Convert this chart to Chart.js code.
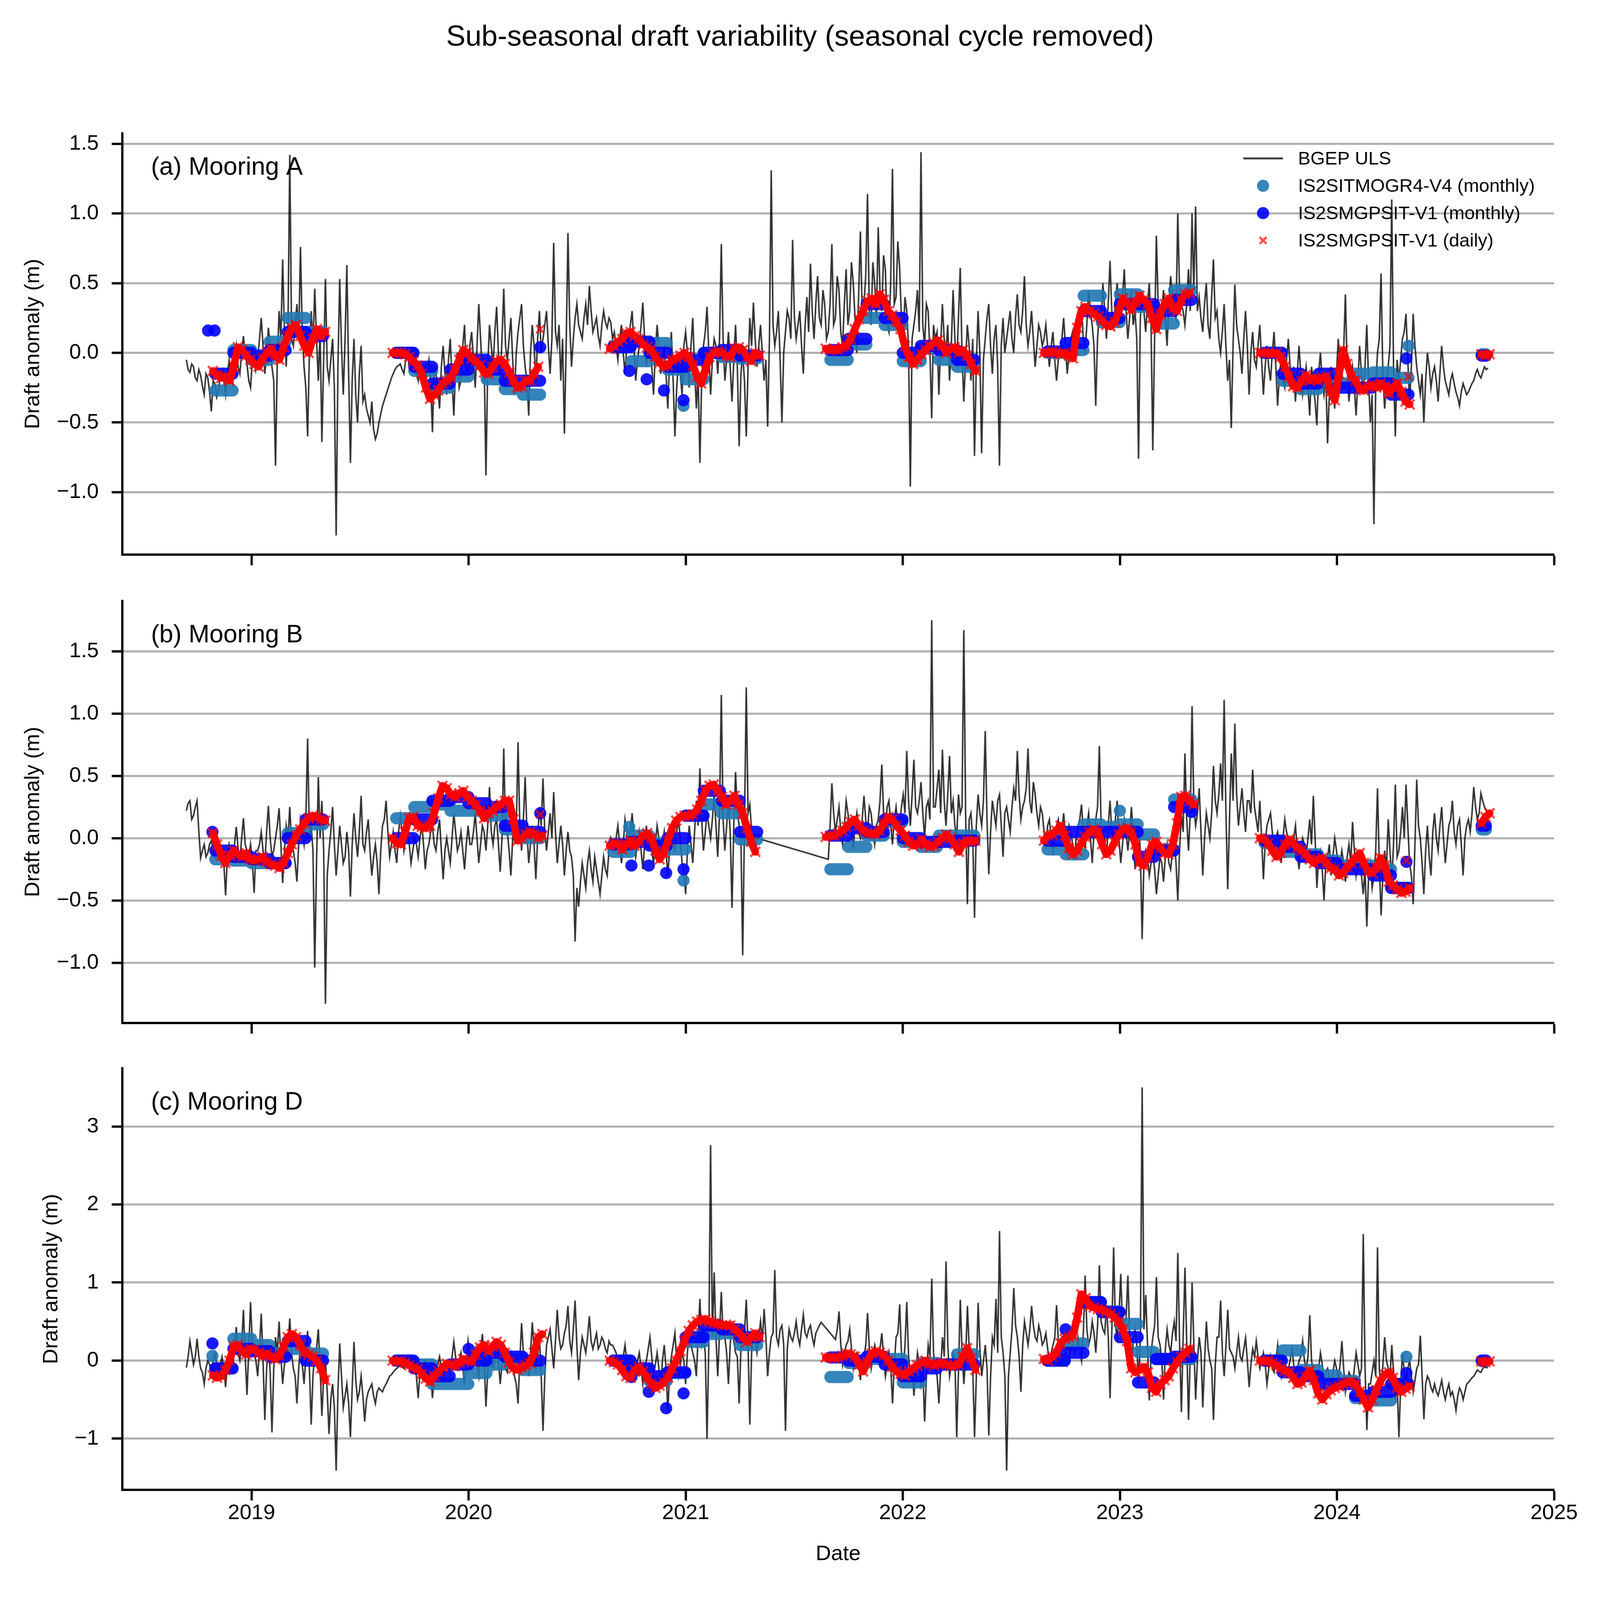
<!DOCTYPE html>
<html>
<head>
<meta charset="utf-8">
<script src="https://cdn.jsdelivr.net/npm/chart.js@4.4.1/dist/chart.umd.min.js"></script>
<style>
  html, body { margin: 0; padding: 0; background: #fff; overflow: hidden; }
  body { width: 100vw; height: 100vh; position: relative; font-family: "Liberation Sans", Arial, sans-serif; }
  #fig { position: absolute; left: 0; top: 0; width: 4212px; height: 4183px; transform-origin: 0 0; background: #fff; }
  #title { position: absolute; left: 0; top: 52px; width: 4212px; text-align: center; font-size: 76px; line-height: 84px; color: #000; }
  .panel { position: absolute; left: 0; width: 4212px; }
</style>
</head>
<body>
<div id="fig">
  <div id="title">Sub-seasonal draft variability (seasonal cycle removed)</div>
  <div class="panel" style="top:281px;height:1249px"><canvas id="panelA"></canvas></div>
  <div class="panel" style="top:1512px;height:1251px"><canvas id="panelB"></canvas></div>
  <div class="panel" style="top:2742px;height:1441px"><canvas id="panelC"></canvas></div>
</div>
<script>
/* ---- axis ticks ---- */
const yearTicks = [2019, 2020, 2021, 2022, 2023, 2024, 2025];
const yTicksAB = [-1, -0.5, 0, 0.5, 1, 1.5];
const yTicksC = [-1, 0, 1, 2, 3];

/* ---- BGEP ULS daily anomaly, read every 3 days (m) ---- */
const bgepStepDays = 3;
const bgepA = [
  -0.05,-0.12,-0.14,-0.08,-0.10,-0.18,-0.20,-0.12,-0.16,-0.24,-0.30,-0.15,-0.18,-0.28,-0.42,-0.20,-0.22,-0.32,-0.28,-0.15,
  -0.12,-0.20,-0.30,-0.15,-0.05,-0.18,-0.22,-0.05,0.05,-0.10,-0.15,0.00,0.12,-0.02,-0.08,-0.20,-0.25,-0.05,0.02,-0.12,
  -0.05,0.10,0.25,0.05,-0.15,0.00,0.18,0.05,-0.10,-0.20,-0.81,-0.05,0.30,0.10,0.67,0.15,-0.10,0.20,1.42,0.10,
  0.05,0.20,0.35,0.10,0.76,0.15,-0.10,-0.25,-0.60,0.00,0.30,0.05,0.46,0.10,-0.20,0.15,-0.64,-0.05,0.53,-0.10,
  -0.20,-0.05,0.10,-0.25,-1.31,-0.10,0.53,0.05,-0.30,0.10,0.63,-0.15,-0.79,-0.20,0.10,-0.30,-0.50,-0.15,0.05,-0.35,
  -0.30,-0.40,-0.45,-0.50,-0.35,-0.55,-0.62,-0.58,-0.50,-0.44,-0.38,-0.34,-0.30,-0.26,-0.22,-0.18,-0.15,-0.12,-0.10,-0.09,
  -0.08,-0.12,-0.15,-0.05,-0.02,-0.10,-0.12,-0.03,-0.06,-0.15,-0.20,-0.08,-0.10,-0.18,-0.28,-0.12,-0.05,-0.20,-0.57,-0.10,
  -0.15,-0.25,-0.40,-0.10,0.05,-0.15,-0.30,-0.05,0.10,-0.20,-0.45,-0.10,0.00,-0.25,-0.20,0.05,0.20,-0.15,-0.10,0.05,
  0.15,-0.05,-0.25,0.05,0.35,0.10,-0.15,-0.05,-0.88,-0.10,0.20,0.05,-0.10,0.15,0.33,0.00,-0.20,0.10,0.46,0.05,
  -0.05,0.10,0.25,-0.05,-0.30,0.00,0.15,0.25,0.35,0.05,-0.10,-0.20,-0.45,0.00,0.20,0.05,-0.20,0.10,0.30,0.00,
  0.10,0.20,0.30,0.05,-0.15,0.10,0.79,0.15,0.05,0.20,-0.20,0.10,-0.58,0.05,0.86,0.20,-0.10,0.10,0.25,0.35,
  0.20,0.15,0.10,0.25,0.35,0.20,0.48,0.30,0.15,0.20,0.25,0.12,0.05,0.20,0.30,0.22,0.18,0.25,0.22,0.10,
  0.15,0.05,-0.05,0.10,0.20,0.00,-0.15,0.05,0.10,0.20,0.30,0.05,-0.20,-0.05,0.05,0.20,0.36,0.10,-0.10,0.05,
  0.10,-0.10,-0.30,0.00,0.20,0.05,-0.15,-0.05,0.05,-0.15,-0.40,-0.05,0.15,-0.20,-0.60,-0.25,-0.05,-0.15,-0.30,0.05,
  0.15,0.00,-0.25,0.05,0.25,-0.10,-0.40,-0.15,-0.79,-0.20,0.05,0.15,0.33,0.00,-0.30,-0.05,0.10,0.05,-0.15,0.10,
  0.78,0.10,-0.20,-0.05,0.15,-0.10,-0.35,-0.05,0.20,-0.10,-0.67,-0.15,0.00,-0.20,-0.60,-0.10,0.25,0.05,0.36,0.10,
  -0.10,0.05,0.20,0.00,-0.20,-0.05,-0.53,0.10,1.31,0.20,0.05,0.15,0.30,-0.05,-0.50,0.00,0.15,0.30,0.25,0.10,
  0.81,0.25,0.10,0.20,0.30,0.05,-0.15,0.20,0.40,0.15,0.64,0.30,0.10,0.35,0.55,0.25,0.20,0.45,0.35,0.10,
  0.15,0.35,0.78,0.20,0.25,0.55,0.45,0.15,0.05,0.35,0.60,0.20,0.30,0.65,0.50,0.25,0.00,0.40,0.87,0.30,
  0.35,0.55,1.14,0.30,0.20,0.65,0.50,0.25,0.90,0.45,0.30,0.70,0.60,0.20,0.15,0.50,1.32,0.35,0.40,0.80,
  0.61,0.25,0.10,0.40,0.30,0.05,-0.96,0.10,0.20,0.30,0.45,0.15,1.44,0.20,0.05,0.35,0.30,0.00,-0.47,0.20,
  0.10,0.15,-0.30,0.05,0.35,0.10,0.00,0.20,-0.20,0.05,0.45,0.10,-0.10,0.25,0.61,0.00,-0.35,-0.05,0.20,0.05,
  -0.20,0.10,-0.74,-0.10,0.30,0.00,-0.72,-0.05,0.10,0.25,0.35,0.05,-0.15,0.10,0.20,-0.10,-0.81,0.05,0.25,0.00,
  0.10,0.20,0.30,0.10,0.00,0.25,0.42,0.20,0.15,0.30,0.55,0.20,0.05,0.15,0.30,0.10,-0.10,0.05,0.20,0.15,
  0.05,0.10,0.20,0.05,-0.10,0.05,0.15,-0.05,-0.20,-0.05,0.00,0.10,0.25,0.05,-0.15,0.00,0.10,0.15,-0.05,0.05,
  0.15,0.25,0.35,0.10,0.00,0.20,0.45,0.30,0.20,0.05,-0.38,0.10,0.30,0.20,0.50,0.30,0.10,0.35,0.66,0.30,
  0.20,0.35,0.50,0.30,0.25,0.40,0.60,0.30,0.10,0.25,0.45,0.20,0.30,0.10,-0.76,0.25,0.40,0.30,0.15,0.35,
  0.50,0.20,-0.70,0.10,0.84,0.35,0.20,0.30,0.45,0.25,0.05,0.35,0.55,0.40,0.30,0.25,1.00,0.45,0.35,0.30,
  0.20,0.35,0.60,0.30,1.00,0.45,1.05,0.30,0.40,0.25,0.15,0.35,0.50,0.20,0.10,0.40,0.67,0.25,0.30,0.10,
  0.00,0.15,0.35,0.05,-0.20,-0.05,-0.54,0.05,0.49,0.20,0.10,0.00,-0.15,0.10,0.30,0.05,-0.30,0.00,0.15,-0.05,
  -0.10,0.05,0.20,-0.05,-0.30,-0.10,0.05,-0.10,-0.20,0.00,0.15,-0.10,-0.38,-0.15,-0.05,-0.20,-0.25,-0.05,0.10,-0.10,
  -0.20,-0.10,-0.35,-0.15,0.05,-0.15,-0.30,-0.20,-0.10,-0.25,-0.45,-0.10,-0.20,-0.35,-0.52,-0.15,0.00,-0.20,-0.30,-0.15,
  -0.65,-0.30,-0.10,-0.25,-0.40,-0.15,0.10,-0.10,-0.20,0.00,0.42,-0.10,-0.35,-0.20,-0.10,-0.25,-0.45,-0.20,0.05,-0.15,
  -0.30,-0.10,0.20,-0.20,-0.50,-0.30,-1.23,-0.25,0.00,0.10,0.57,-0.15,-0.40,-0.25,-0.10,0.05,1.10,-0.10,-0.60,-0.05,
  -0.20,-0.05,0.10,0.15,0.28,-0.05,-0.35,-0.10,0.28,0.05,-0.10,-0.20,-0.30,-0.15,-0.50,-0.20,0.00,-0.10,-0.25,-0.15,
  -0.10,-0.20,-0.35,-0.15,0.05,-0.10,-0.20,-0.25,-0.30,-0.20,-0.15,-0.22,-0.28,-0.32,-0.38,-0.28,-0.22,-0.26,-0.30,-0.28,
  -0.25,-0.22,-0.20,-0.15,-0.12,-0.16,-0.18,-0.14,-0.10,-0.12,-0.11
];
const bgepB1 = [
  0.22,0.28,0.30,0.15,0.18,0.25,0.30,0.05,-0.16,-0.10,-0.05,-0.15,-0.12,-0.05,-0.02,-0.10,-0.15,-0.05,-0.08,-0.12,
  -0.12,-0.20,-0.46,-0.15,-0.05,-0.12,-0.15,-0.05,0.09,-0.08,-0.18,0.00,0.16,-0.05,-0.10,-0.15,-0.05,-0.20,-0.44,-0.10,
  -0.10,-0.05,0.05,-0.10,-0.20,0.05,0.26,0.00,-0.15,-0.10,0.00,0.10,0.24,-0.05,-0.36,-0.10,0.10,0.00,0.25,-0.05,
  -0.10,-0.20,-0.35,-0.05,0.15,0.05,-0.05,0.15,0.80,0.00,0.10,-0.10,-1.04,-0.20,0.49,0.00,0.30,-0.10,-1.33,-0.30,
  -0.10,0.05,0.25,-0.05,-0.30,-0.10,0.10,-0.05,-0.20,-0.15,0.05,-0.10,-0.47,-0.05,0.20,0.00,-0.15,0.05,0.34,-0.05,
  -0.10,0.05,0.15,-0.10,-0.30,-0.15,-0.05,-0.20,-0.45,-0.10,0.10,0.15,0.30,0.05,-0.15,-0.05,0.05,-0.10,-0.20,0.05,
  0.18,0.05,-0.10,0.00,0.10,-0.05,-0.20,-0.10,0.00,-0.05,-0.15,0.00,0.12,-0.05,-0.25,-0.10,-0.05,0.05,0.10,-0.05,
  -0.10,0.05,0.15,-0.10,-0.33,-0.10,0.00,-0.10,-0.20,0.00,0.20,0.05,-0.10,-0.05,0.05,-0.10,-0.25,-0.05,0.10,-0.05,
  -0.05,0.05,0.20,0.00,-0.20,-0.05,0.10,0.05,-0.10,0.10,0.41,0.05,-0.05,0.10,0.15,-0.05,-0.27,0.00,0.72,0.05,
  0.05,-0.10,-0.30,0.00,0.20,0.05,0.77,0.10,-0.10,0.15,0.49,0.05,-0.20,-0.05,0.10,-0.05,-0.33,0.00,0.25,0.10,
  0.48,0.05,-0.10,0.05,0.20,0.00,0.37,0.05,-0.20,-0.05,0.10,-0.05,-0.30,-0.10,0.05,-0.10,-0.15,-0.30,-0.83,-0.40,
  -0.55,-0.35,-0.20,-0.30,-0.40,-0.20,-0.10,-0.25,-0.35,-0.15,-0.25,-0.35,-0.45,-0.30,-0.15,-0.25,-0.30,-0.10,0.00,-0.05,
  -0.10,0.00,0.10,-0.05,-0.20,-0.05,0.15,0.05,-0.05,0.05,0.20,0.00,-0.15,-0.05,0.05,-0.10,-0.25,-0.05,0.10,-0.05,
  -0.05,-0.10,-0.20,-0.05,0.10,0.00,-0.15,-0.05,0.05,-0.10,-0.30,-0.10,0.00,-0.05,-0.10,0.05,0.15,0.00,-0.20,-0.25,
  -0.45,-0.10,0.10,-0.05,-0.20,0.05,0.30,0.10,0.56,0.15,-0.10,0.05,0.20,0.10,0.00,0.15,0.35,0.10,-0.15,0.20,
  1.15,0.15,-0.10,0.10,0.30,0.05,-0.56,0.10,0.53,0.20,0.10,0.00,-0.94,0.10,1.21,0.20,0.27,0.05,-0.10,-0.05,
  0.00
];
const bgepB2 = [
  -0.17,0.10,0.44,0.20,0.05,0.15,0.25,0.05,-0.05,0.10,0.30,0.20,0.10,0.05,-0.09,0.10,0.20,0.05,0.00,0.15,
  0.34,0.15,0.05,0.25,0.20,0.05,-0.05,0.10,0.15,0.30,0.59,0.20,0.10,0.25,0.30,0.10,-0.05,0.15,0.25,0.10,
  0.10,0.25,0.35,0.20,0.70,0.30,0.10,0.35,0.63,0.25,0.20,0.30,0.45,0.20,0.00,0.25,0.30,0.15,1.75,0.25,
  0.25,0.40,0.55,0.20,0.71,0.30,0.10,0.35,0.66,0.20,0.30,0.10,0.00,0.35,0.20,0.25,1.67,0.20,-0.53,0.15,
  0.20,0.00,-0.64,0.10,0.35,0.20,0.10,0.30,0.86,0.15,-0.29,0.05,0.30,0.20,0.10,0.30,0.35,0.10,-0.15,0.20,
  0.25,0.15,0.05,0.25,0.40,0.30,0.70,0.35,0.15,0.25,0.30,0.40,0.72,0.30,0.20,0.45,0.35,0.20,0.10,0.25,
  0.20,0.05,-0.05,0.10,0.15,0.00,-0.10,0.05,0.10,0.15,0.00,0.05,0.20,0.00,-0.15,0.10,0.05,-0.05,-0.18,0.00,
  0.10,0.15,0.27,0.05,-0.10,0.10,0.20,0.00,-0.20,0.05,0.15,0.25,0.74,0.10,0.05,0.00,-0.15,0.10,0.30,0.05,
  0.00,0.15,0.30,0.00,-0.20,-0.05,0.15,0.05,-0.10,0.05,0.25,0.00,-0.25,-0.05,0.10,-0.10,-0.81,-0.20,-0.10,-0.15,
  -0.30,-0.20,-0.10,-0.25,-0.45,-0.30,-0.15,-0.20,-0.35,-0.15,-0.05,-0.20,-0.25,-0.10,0.00,-0.20,-0.50,-0.10,0.20,0.05,
  0.68,0.15,-0.10,0.20,1.06,0.25,0.10,0.20,0.40,0.05,-0.30,0.00,0.20,0.10,0.00,0.20,0.58,0.30,0.20,0.35,
  0.60,0.30,1.11,0.20,-0.41,0.15,0.68,0.30,0.92,0.35,0.10,0.25,0.40,0.20,0.05,0.30,0.30,0.20,0.55,0.25,
  0.15,0.05,0.30,0.00,-0.33,-0.05,0.10,0.15,0.20,0.05,-0.10,0.00,0.05,-0.05,-0.20,0.00,0.15,0.05,0.00,-0.05,
  -0.10,0.00,0.10,-0.10,-0.25,-0.10,0.00,-0.05,-0.15,0.00,0.15,-0.05,0.34,0.00,-0.40,-0.15,-0.10,-0.25,-0.50,-0.20,
  -0.15,-0.05,-0.30,-0.15,0.00,-0.10,-0.25,-0.20,-0.10,-0.20,-0.35,-0.15,-0.05,-0.20,0.13,-0.10,-0.30,-0.20,-0.15,-0.30,
  -0.45,-0.25,-0.71,-0.30,-0.20,-0.40,-0.30,-0.10,0.40,-0.20,-0.62,-0.30,-0.10,-0.25,0.15,-0.10,-0.35,-0.05,0.43,-0.15,
  -0.10,0.05,0.25,0.00,0.43,0.10,-0.20,-0.30,-0.53,-0.05,0.47,0.10,0.00,-0.20,-0.45,-0.10,0.10,-0.15,-0.30,0.05,
  0.20,0.00,-0.10,0.10,0.25,0.00,-0.20,-0.05,0.10,0.15,0.30,0.05,-0.05,0.10,0.15,-0.05,-0.30,0.00,0.10,0.15,
  0.05,0.20,0.41,0.25,0.15,0.20,0.36,0.30,0.25,0.22,0.20
];
const bgepC1 = [
  -0.09,0.05,0.25,0.10,-0.05,0.05,0.28,0.05,-0.10,-0.15,-0.30,-0.10,0.00,-0.05,-0.15,0.00,0.10,-0.05,-0.20,-0.05,
  0.05,-0.10,-0.34,-0.05,0.10,0.00,-0.10,0.15,0.43,0.10,0.00,0.20,0.65,0.05,-0.44,0.15,0.75,0.20,0.10,0.00,
  -0.20,0.15,0.60,0.00,-0.76,-0.10,0.20,-0.15,-0.92,-0.10,0.30,0.10,0.50,0.05,-0.30,-0.05,0.10,0.20,0.54,0.10,
  -0.10,-0.20,-0.55,-0.10,0.20,-0.05,-0.30,0.05,0.38,-0.10,-0.82,-0.20,0.10,0.15,0.40,-0.10,-0.71,-0.20,0.00,-0.40,
  -0.94,-0.50,-0.30,-0.60,-1.41,-0.40,0.22,-0.20,-0.60,-0.45,-0.30,-0.55,-0.98,-0.35,0.24,-0.25,-0.50,-0.40,-0.20,-0.45,
  -0.78,-0.50,-0.40,-0.35,-0.30,-0.45,-0.55,-0.40,-0.35,-0.38,-0.40,-0.34,-0.30,-0.25,-0.20,-0.18,-0.15,-0.12,-0.10,-0.08,
  -0.05,-0.08,-0.10,-0.02,0.05,-0.05,-0.15,-0.10,-0.05,-0.20,-0.48,-0.15,-0.10,-0.05,0.00,-0.10,-0.20,-0.15,-0.48,-0.20,
  -0.10,-0.05,0.05,-0.10,-0.25,-0.10,0.00,-0.05,-0.15,0.05,0.24,0.05,-0.10,0.00,0.10,-0.10,-0.30,0.00,0.25,0.05,
  -0.05,0.05,0.15,-0.05,-0.20,0.10,0.34,0.00,-0.59,-0.15,0.10,0.00,-0.10,0.05,0.20,0.00,-0.30,-0.05,0.05,-0.10,
  -0.15,0.00,0.10,-0.05,-0.20,-0.30,-0.55,0.00,0.48,0.10,0.00,0.05,-0.20,0.10,0.49,0.15,-0.10,0.05,0.30,-0.20,
  -0.90,-0.20,0.20,0.30,0.40,0.15,-0.10,0.25,0.65,0.30,0.15,0.20,0.35,0.45,0.70,0.25,0.10,0.40,0.77,0.20,
  -0.25,0.10,0.30,0.20,0.10,0.30,0.57,0.25,0.15,0.25,0.35,0.15,0.20,0.30,0.25,0.15,0.10,0.25,0.20,0.20,
  0.15,0.10,0.00,0.05,-0.10,0.05,0.20,0.00,-0.20,-0.05,0.05,0.00,-0.15,0.00,0.10,-0.10,-0.30,-0.05,0.00,0.15,
  0.30,0.05,-0.20,-0.05,0.10,-0.10,-0.35,0.00,0.20,-0.10,-0.66,-0.15,0.05,0.20,0.35,0.00,-0.20,-0.05,0.10,0.00,
  -0.30,0.10,0.40,0.20,0.10,0.00,-0.20,0.30,0.79,0.20,0.30,0.10,-1.00,0.20,2.76,0.30,1.13,0.30,-0.20,0.35,
  0.88,0.35,0.30,0.10,-0.30,0.20,0.50,0.25,0.10,0.05,-0.55,0.15,0.40,0.35,0.78,0.20,-0.82,0.10,0.35,0.25,
  0.10,0.30,0.50,0.25,0.66,0.30,-0.20,0.10,0.30,0.35,1.16,0.30,0.20,0.40,0.45,0.20,-0.90,0.15,0.40,0.30,
  0.25,0.35,0.50,0.30,0.20,0.40,0.59,0.35,0.30,0.40,0.45,0.30,0.20,0.35,0.40,0.45,0.49
];
const bgepC2 = [
  0.27,0.40,0.63,0.20,-0.05,0.10,0.20,0.25,0.40,0.15,-0.10,0.05,0.10,0.00,-0.25,0.05,
  0.05,0.20,0.61,0.15,-0.10,0.05,0.20,0.10,0.00,0.15,0.35,0.05,-0.20,-0.05,0.10,-0.10,-0.55,-0.05,0.30,0.35,
  0.72,0.10,-0.10,0.20,0.75,0.05,-0.20,-0.10,-0.45,-0.15,0.10,-0.05,-0.30,-0.10,-0.78,-0.20,0.20,0.05,1.05,0.10,
  -0.10,-0.20,-0.55,-0.10,0.30,0.05,1.27,0.20,-0.20,-0.05,0.10,0.00,-0.98,-0.10,0.78,0.10,-0.30,0.05,0.70,0.15,
  0.10,-0.10,-0.98,-0.20,0.74,0.15,-0.20,0.00,0.20,-0.10,-0.96,-0.20,0.30,0.20,0.79,0.10,1.66,0.30,0.10,-0.20,
  -1.41,-0.20,0.10,0.40,0.93,0.45,0.30,0.05,-0.40,0.20,0.50,0.35,0.20,0.40,0.70,0.45,0.30,0.25,0.45,0.35,
  0.20,0.25,0.35,0.15,0.00,0.10,0.20,0.30,0.71,0.25,0.10,0.20,0.25,0.10,-0.05,0.05,0.15,0.20,0.10,0.15,
  0.30,0.15,0.00,0.35,1.09,0.40,0.20,0.30,0.50,0.35,0.10,0.45,1.22,0.50,0.40,0.35,0.70,0.30,-0.48,0.40,
  1.45,0.45,0.30,0.60,1.11,0.40,0.50,0.55,1.09,0.30,-0.10,0.25,0.40,0.20,-0.30,0.30,3.50,0.40,0.84,0.20,
  -0.51,0.10,0.30,0.45,1.07,0.30,0.20,0.00,-0.50,0.15,0.40,0.20,0.10,0.35,0.50,0.25,1.38,0.20,-0.66,0.30,
  1.19,0.20,-0.76,0.10,1.00,0.20,-0.50,0.00,0.30,0.10,-0.60,0.00,0.50,0.15,0.00,-0.10,-0.76,-0.05,0.30,0.30,
  0.77,0.10,-0.20,0.20,0.65,0.15,0.10,0.05,-0.10,0.10,0.30,0.05,0.00,0.15,0.29,0.00,-0.34,-0.05,0.15,0.05,
  0.25,0.05,-0.10,0.00,0.10,-0.05,-0.30,-0.10,0.05,-0.10,-0.15,0.00,0.20,-0.05,-0.20,-0.05,0.00,-0.15,-0.10,0.00,
  0.15,-0.05,-0.25,-0.10,0.00,0.05,0.25,0.00,-0.10,0.05,0.58,0.00,-0.15,-0.20,-0.45,-0.10,0.10,-0.05,-0.30,-0.15,
  -0.10,-0.20,-0.35,-0.15,0.00,-0.10,-0.25,-0.05,0.25,-0.10,-0.40,-0.25,-0.15,-0.20,-0.30,-0.10,0.10,-0.05,-0.20,-0.10,
  1.62,-0.10,-0.89,-0.30,-0.30,-0.15,0.00,-0.20,1.45,-0.10,-0.40,-0.05,0.30,0.00,-0.10,-0.20,0.20,-0.15,-0.50,-0.30,
  -0.98,-0.30,0.10,-0.15,-0.30,-0.10,0.00,-0.20,-0.40,-0.25,-0.10,-0.05,0.32,-0.20,-0.75,-0.30,-0.20,-0.25,-0.35,-0.40,
  -0.30,-0.40,-0.45,-0.35,-0.25,-0.40,-0.50,-0.38,-0.30,-0.45,-0.40,-0.50,-0.64,-0.45,-0.35,-0.40,-0.50,-0.40,-0.30,-0.28,
  -0.25,-0.22,-0.20,-0.16,-0.12,-0.14,-0.15,-0.10,-0.08,-0.09,-0.09
];
const bgepStarts = { A: [2018.700], B: [2018.700, 2021.657], C: [2018.700, 2021.690] };

/* ---- monthly products: one value per month ---- */
const months = [
  '2018-11','2018-12','2019-01','2019-02','2019-03','2019-04',
  '2019-09','2019-10','2019-11','2019-12','2020-01','2020-02','2020-03','2020-04',
  '2020-09','2020-10','2020-11','2020-12','2021-01','2021-02','2021-03','2021-04',
  '2021-09','2021-10','2021-11','2021-12','2022-01','2022-02','2022-03','2022-04',
  '2022-09','2022-10','2022-11','2022-12','2023-01','2023-02','2023-03','2023-04',
  '2023-09','2023-10','2023-11','2023-12','2024-01','2024-02','2024-03','2024-04',
  '2024-09'
];
const partialMonthDays = { '2024-09': 8 };

const gr4A = [-0.27,0.02,-0.05,0.08,0.25,0.15, 0.00,-0.13,-0.25,-0.17,-0.08,-0.19,-0.26,-0.30,
  0.05,-0.06,0.07,-0.12,-0.19,0.00,-0.03,-0.04, -0.05,0.06,0.25,0.20,-0.06,0.03,-0.05,-0.10,
  0.00,0.02,0.41,0.22,0.42,0.33,0.21,0.45, 0.00,-0.20,-0.26,-0.20,-0.22,-0.15,-0.14,-0.18, -0.01];
const gpsitA = [-0.15,0.00,-0.02,0.02,0.15,0.12, 0.00,-0.10,-0.22,-0.12,-0.05,-0.12,-0.20,-0.20,
  0.04,0.08,0.00,-0.10,-0.05,0.00,0.02,-0.02, 0.02,0.10,0.35,0.25,0.00,0.05,0.02,-0.05,
  0.01,0.07,0.30,0.25,0.35,0.35,0.30,0.38, 0.00,-0.15,-0.22,-0.15,-0.25,-0.25,-0.22,-0.30, -0.02];
const gr4B = [-0.17,-0.18,-0.20,-0.20,0.04,0.11, 0.16,0.25,0.27,0.22,0.22,0.18,0.07,0.00,
  -0.11,0.02,-0.04,-0.09,0.18,0.27,0.20,-0.01, -0.25,-0.07,0.02,0.13,-0.03,-0.07,0.02,0.02,
  -0.09,-0.13,0.11,0.09,0.11,0.03,-0.09,0.31, -0.04,-0.11,-0.13,-0.18,-0.22,-0.22,-0.25,-0.40, 0.07];
const gpsitB = [-0.10,-0.15,-0.17,-0.20,0.00,0.15, 0.00,0.15,0.30,0.33,0.28,0.25,0.10,0.05,
  -0.05,-0.03,-0.06,0.00,0.18,0.38,0.30,0.05, 0.02,0.08,0.05,0.15,0.00,-0.03,-0.03,-0.02,
  -0.02,0.05,0.05,0.05,0.05,-0.15,-0.10,0.25, -0.02,-0.07,-0.15,-0.20,-0.25,-0.25,-0.30,-0.40, 0.10];
const gr4C = [-0.10,0.28,0.20,0.09,0.15,0.09, 0.00,-0.05,-0.30,-0.30,-0.16,-0.05,0.02,-0.12,
  0.00,-0.12,-0.26,-0.16,0.24,0.34,0.35,0.20, -0.21,-0.03,0.02,0.02,-0.28,-0.03,-0.05,0.08,
  0.00,0.22,0.74,0.63,0.47,0.11,0.02,0.02, 0.00,0.13,-0.12,-0.19,-0.26,-0.48,-0.51,-0.30, 0.00];
const gpsitC = [-0.10,0.15,0.12,0.05,0.25,0.00, 0.00,-0.10,-0.20,-0.05,0.00,0.10,0.05,0.00,
  0.00,-0.10,-0.20,-0.15,0.30,0.45,0.40,0.30, 0.04,0.00,0.05,-0.05,-0.20,-0.10,-0.05,-0.05,
  0.00,0.10,0.75,0.62,0.30,-0.28,0.02,0.05, 0.00,-0.15,-0.20,-0.30,-0.30,-0.45,-0.40,-0.30, 0.00];

/* single-day monthly-product values that stand apart: [decimal year, m] */
const gr4DotsA = [[2020.99,-0.38],[2024.33,0.05]];
const gpsitDotsA = [[2018.80,0.16],[2018.83,0.16],[2020.33,0.04],[2020.74,-0.13],[2020.82,-0.19],[2020.90,-0.27],[2020.99,-0.34],[2024.32,-0.04]];
const gr4DotsB = [[2020.74,0.09],[2020.99,-0.34],[2023.00,0.22]];
const gpsitDotsB = [[2018.82,0.05],[2020.33,0.20],[2020.75,-0.22],[2020.83,-0.22],[2020.91,-0.28],[2020.99,-0.25],[2023.33,0.21],[2024.32,-0.19]];
const gr4DotsC = [[2018.82,0.06],[2024.32,0.05]];
const gpsitDotsC = [[2018.82,0.22],[2020.00,0.15],[2020.75,-0.21],[2020.83,-0.40],[2020.91,-0.61],[2020.99,-0.42],[2022.75,0.40],[2024.32,-0.16]];

/* ---- IS2SMGPSIT-V1 daily, read weekly per winter (m) ---- */
const dailyStepDays = 7;
const winterStarts = [2018.822, 2019.650, 2020.650, 2021.645, 2022.650, 2023.645, 2024.665];
const dailyA = [
  [-0.13,-0.16,-0.18,-0.17,-0.20,-0.10,0.04,0.02,-0.02,-0.05,-0.08,-0.10,-0.04,0.00,0.03,-0.02,-0.05,0.04,0.12,0.18,0.20,0.12,0.05,0.00,0.10,0.17,0.12,0.15],
  [0.00,0.00,0.00,-0.01,-0.03,-0.06,-0.09,-0.15,-0.25,-0.33,-0.30,-0.27,-0.22,-0.20,-0.18,-0.12,-0.05,0.02,0.00,-0.04,-0.06,-0.09,-0.14,-0.15,-0.10,-0.06,-0.05,-0.08,-0.14,-0.20,-0.25,-0.24,-0.20,-0.20,-0.15,-0.10],
  [0.03,0.05,0.08,0.10,0.14,0.15,0.12,0.10,0.06,0.04,0.02,-0.03,-0.07,-0.10,-0.09,-0.05,-0.04,-0.02,0.00,-0.03,-0.09,-0.17,-0.22,-0.12,-0.03,0.00,0.01,0.00,-0.02,-0.03,0.03,0.04,0.02,-0.03,-0.06,0.00,-0.02],
  [0.03,0.02,0.03,0.02,0.04,0.05,0.10,0.17,0.24,0.30,0.37,0.39,0.35,0.42,0.38,0.30,0.27,0.22,0.17,0.05,-0.03,-0.08,-0.05,-0.01,0.02,0.05,0.07,0.09,0.05,0.00,0.03,0.04,0.00,0.02,-0.02,-0.08,-0.13],
  [0.00,0.00,0.01,0.00,-0.01,0.00,-0.02,-0.04,0.18,0.30,0.33,0.30,0.28,0.26,0.23,0.20,0.19,0.22,0.30,0.39,0.36,0.31,0.36,0.41,0.38,0.35,0.25,0.17,0.28,0.35,0.39,0.32,0.30,0.38,0.42,0.43],
  [0.00,0.00,0.00,-0.01,0.00,-0.03,-0.10,-0.17,-0.24,-0.25,-0.20,-0.16,-0.20,-0.18,-0.20,-0.18,-0.17,-0.28,-0.34,-0.15,0.02,-0.08,-0.17,-0.20,-0.26,-0.27,-0.24,-0.23,-0.25,-0.22,-0.24,-0.29,-0.25,-0.22,-0.28,-0.35,-0.37],
  [-0.01,-0.02,-0.01]
];
const dailyB = [
  [0.04,-0.05,-0.14,-0.20,-0.14,-0.10,-0.13,-0.15,-0.12,-0.17,-0.18,-0.17,-0.15,-0.19,-0.21,-0.22,-0.24,-0.20,-0.12,-0.05,0.02,0.07,0.12,0.16,0.18,0.17,0.15,0.14],
  [0.00,-0.04,-0.05,0.05,0.16,0.17,0.10,0.09,0.08,0.10,0.20,0.32,0.42,0.40,0.35,0.33,0.36,0.38,0.33,0.30,0.27,0.22,0.16,0.20,0.22,0.25,0.27,0.30,0.30,0.15,-0.02,0.00,0.03,0.05,0.03,0.00,0.02],
  [-0.06,-0.04,-0.05,-0.09,-0.05,-0.02,-0.06,-0.03,0.02,0.04,0.00,-0.10,-0.17,-0.12,-0.02,0.08,0.14,0.17,0.18,0.18,0.19,0.23,0.30,0.38,0.42,0.43,0.38,0.33,0.27,0.30,0.34,0.27,0.20,0.08,-0.03,-0.11],
  [0.01,0.02,0.02,0.04,0.06,0.09,0.13,0.15,0.10,0.06,0.04,0.04,0.03,0.06,0.12,0.17,0.15,0.10,0.06,0.02,-0.03,-0.06,-0.05,-0.01,-0.05,-0.07,-0.06,-0.03,0.00,0.03,0.00,-0.05,-0.11,-0.04,-0.02,-0.03,-0.02],
  [-0.02,0.02,0.03,0.06,0.10,0.02,-0.08,-0.13,-0.10,-0.04,0.01,0.05,0.07,0.05,-0.05,-0.13,-0.10,-0.03,0.03,0.07,0.08,0.05,-0.05,-0.20,-0.22,-0.15,-0.05,-0.03,-0.08,-0.12,-0.13,-0.05,0.12,0.33,0.34,0.30,0.27],
  [0.00,-0.01,-0.04,-0.10,-0.15,-0.12,-0.05,-0.01,-0.04,-0.08,-0.10,-0.13,-0.17,-0.20,-0.17,-0.16,-0.20,-0.24,-0.25,-0.30,-0.28,-0.23,-0.20,-0.16,-0.12,-0.20,-0.27,-0.28,-0.24,-0.16,-0.22,-0.35,-0.38,-0.41,-0.44,-0.43,-0.40],
  [0.12,0.17,0.20]
];
const dailyC = [
  [-0.19,-0.22,-0.20,-0.12,0.00,0.18,0.20,0.12,0.08,0.15,0.14,0.10,0.06,0.09,0.05,0.02,0.06,0.18,0.30,0.34,0.30,0.20,0.10,0.08,0.05,0.00,-0.10,-0.25],
  [0.00,-0.01,-0.01,-0.03,-0.06,-0.09,-0.11,-0.17,-0.23,-0.27,-0.20,-0.14,-0.09,-0.04,-0.05,-0.07,-0.03,0.02,0.00,-0.01,0.08,0.17,0.20,0.12,0.18,0.24,0.20,0.10,-0.02,-0.10,-0.12,-0.09,-0.06,-0.03,0.10,0.30,0.34],
  [0.00,-0.02,-0.05,-0.12,-0.20,-0.22,-0.12,-0.08,-0.14,-0.22,-0.30,-0.35,-0.32,-0.28,-0.22,-0.10,0.00,0.12,0.26,0.38,0.45,0.50,0.52,0.53,0.50,0.48,0.47,0.45,0.46,0.45,0.40,0.36,0.30,0.24,0.30,0.35,0.30],
  [0.04,0.04,0.03,0.04,0.06,0.09,0.08,0.05,-0.05,-0.14,-0.02,0.09,0.12,0.10,0.07,0.00,-0.08,-0.14,-0.17,-0.19,-0.14,-0.10,-0.06,-0.03,0.00,-0.04,-0.06,-0.04,-0.03,-0.05,-0.07,-0.06,-0.05,0.05,0.16,0.03,-0.12],
  [0.02,0.00,0.05,0.10,0.22,0.28,0.30,0.32,0.55,0.85,0.80,0.70,0.68,0.66,0.65,0.62,0.60,0.55,0.50,0.40,0.25,-0.10,-0.15,-0.12,-0.08,-0.15,-0.35,-0.40,-0.30,-0.25,-0.20,-0.10,-0.02,0.05,0.10,0.15],
  [0.00,-0.01,0.00,-0.03,-0.06,-0.10,-0.13,-0.15,-0.22,-0.30,-0.28,-0.20,-0.13,-0.25,-0.42,-0.50,-0.43,-0.38,-0.35,-0.33,-0.30,-0.28,-0.27,-0.30,-0.40,-0.50,-0.60,-0.50,-0.38,-0.26,-0.18,-0.15,-0.22,-0.35,-0.40,-0.36,-0.33],
  [-0.01,-0.02,-0.01]
];
const dailyDotsA = [[2020.33,0.17],[2024.33,-0.17]];
const dailyDotsB = [[2020.33,0.19],[2024.32,-0.18]];
const dailyDotsC = [];

/* ---- styling ---- */
const FONT = '"Liberation Sans", Arial, sans-serif';
const colLine = 'rgba(0,0,0,0.8)';
const colGr4 = 'rgba(31,119,180,0.9)';
const colGpsit = 'rgba(0,0,255,0.9)';
const colDaily = 'rgba(255,0,0,0.7)';
const X_MIN = 2018.405, X_MAX = 2025.0;
const DAY = 1 / 365.25;

// the figure is laid out on a 4212 x 4183 grid; fit its width to the viewport, keeping proportions
(function fitFigure() {
  const fig = document.getElementById('fig');
  const s = (window.innerWidth || 4212) / 4212;
  fig.style.transform = 'scale(' + s + ')';
})();

Chart.defaults.font.family = FONT;

/* ---- helpers building library data from the arrays ---- */
function linePoints(starts, segs) {
  const pts = [];
  segs.forEach((vals, s) => vals.forEach((v, i) => pts.push({ x: starts[s] + i * bgepStepDays * DAY, y: v })));
  return pts;
}
function dailyPoints(series) {
  const pts = [];
  series.forEach((vals, w) => {
    const s = winterStarts[w];
    vals.forEach((v, k) => pts.push({ x: s + k * dailyStepDays * DAY, y: v }));
    pts.push({ x: s + vals.length * dailyStepDays * DAY, y: null });
  });
  return pts;
}
function monthBars(vals) {
  const pts = [];
  months.forEach((lbl, i) => {
    const v = vals[i];
    if (v == null) return;
    const [yy, mm] = lbl.split('-').map(Number);
    const start = yy + (mm - 1) / 12;
    const nDays = partialMonthDays[lbl] || new Date(yy, mm, 0).getDate();
    const end = start + (nDays - 1) * DAY;
    pts.push({ x: start, y: v }, { x: end, y: v }, { x: end + 0.5 * DAY, y: null });
  });
  return pts;
}
const dots = (arr) => arr.map(([x, y]) => ({ x, y }));

const fmtAB = (v) => (v < 0 ? '\u2212' : '') + Math.abs(v).toFixed(1);
const fmtC = (v) => (v < 0 ? '\u2212' : '') + Math.abs(v);

/* ---- plugins: panel tag and the in-axes legend ---- */
const panelTag = {
  id: 'panelTag',
  afterDraw(chart, args, opts) {
    const { ctx, chartArea: a } = chart;
    ctx.save();
    ctx.font = '66px ' + FONT;
    ctx.fillStyle = '#000';
    ctx.textBaseline = 'alphabetic';
    ctx.fillText(opts.text, a.left + 0.02 * (a.right - a.left), a.top + 109);
    ctx.restore();
  }
};
const legendItems = [
  { label: 'BGEP ULS', kind: 'line' },
  { label: 'IS2SITMOGR4-V4 (monthly)', kind: 'circle', color: colGr4 },
  { label: 'IS2SMGPSIT-V1 (monthly)', kind: 'circle', color: colGpsit },
  { label: 'IS2SMGPSIT-V1 (daily)', kind: 'cross', color: colDaily }
];
const inAxesLegend = {
  id: 'inAxesLegend',
  afterDraw(chart, args, opts) {
    if (!opts.show) return;
    const { ctx, chartArea: a } = chart;
    ctx.save();
    ctx.font = '49px ' + FONT;
    ctx.textBaseline = 'middle';
    legendItems.forEach((it, i) => {
      const y = a.top + 66 + 72 * i;
      const mx = a.right - 766;
      if (it.kind === 'line') {
        ctx.strokeStyle = colLine; ctx.lineWidth = 5;
        ctx.beginPath(); ctx.moveTo(a.right - 818, y); ctx.lineTo(a.right - 714, y); ctx.stroke();
      } else if (it.kind === 'circle') {
        ctx.fillStyle = it.color;
        ctx.beginPath(); ctx.arc(mx, y, 16, 0, Math.PI * 2); ctx.fill();
      } else {
        ctx.strokeStyle = it.color; ctx.lineWidth = 6;
        ctx.beginPath();
        ctx.moveTo(mx - 9, y - 9); ctx.lineTo(mx + 9, y + 9);
        ctx.moveTo(mx - 9, y + 9); ctx.lineTo(mx + 9, y - 9);
        ctx.stroke();
      }
      ctx.fillStyle = '#000';
      ctx.fillText(it.label, a.right - 674, y + 2);
    });
    ctx.restore();
  }
};

function makePanel(id, p) {
  const datasets = [
    { label: 'IS2SMGPSIT-V1 (daily)', data: dailyPoints(p.daily), borderColor: 'rgb(255,0,0)', borderWidth: 20,
      borderJoinStyle: 'round', borderCapStyle: 'round', spanGaps: false,
      pointStyle: 'crossRot', pointRadius: 18, pointBorderWidth: 6, pointBorderColor: colDaily,
      pointBackgroundColor: 'rgba(0,0,0,0)', order: 1 },
    { data: dots(p.dailyDots), showLine: false, pointStyle: 'crossRot', pointRadius: 15, pointBorderWidth: 6,
      pointBorderColor: colDaily, order: 1 },
    { label: 'IS2SMGPSIT-V1 (monthly)', data: monthBars(p.gpsit), borderColor: colGpsit, borderWidth: 32,
      borderCapStyle: 'round', borderJoinStyle: 'round', pointRadius: 0, spanGaps: false, order: 2 },
    { data: dots(p.gpsitDots), showLine: false, pointRadius: 16, pointBackgroundColor: colGpsit,
      pointBorderWidth: 0, order: 2 },
    { label: 'IS2SITMOGR4-V4 (monthly)', data: monthBars(p.gr4), borderColor: colGr4, borderWidth: 32,
      borderCapStyle: 'round', borderJoinStyle: 'round', pointRadius: 0, spanGaps: false, order: 3 },
    { data: dots(p.gr4Dots), showLine: false, pointRadius: 16, pointBackgroundColor: colGr4,
      pointBorderWidth: 0, order: 3 },
    { label: 'BGEP ULS', data: linePoints(p.bgepStarts, p.bgep), borderColor: colLine, borderWidth: 4,
      pointRadius: 0, order: 4 }
  ];

  return new Chart(document.getElementById(id), {
    type: 'line',
    data: { datasets },
    options: {
      responsive: true,
      maintainAspectRatio: false,
      animation: false,
      devicePixelRatio: 1,
      events: [],
      layout: { padding: { top: 70, right: 121, bottom: 0, left: 0 } },
      scales: {
        x: {
          type: 'linear', min: X_MIN, max: X_MAX,
          afterBuildTicks: (s) => { s.ticks = yearTicks.map((v) => ({ value: v })); },
          afterFit: (s) => { s.height = p.xAxisHeight; },
          grid: { display: true, drawOnChartArea: false, drawTicks: true, tickLength: 28, tickWidth: 6, tickColor: '#000' },
          border: { display: true, color: '#000', width: 6 },
          ticks: { display: p.showX, autoSkip: false, maxRotation: 0, minRotation: 0, padding: 0,
                   color: '#000', font: { size: 56 }, callback: (v) => String(v) },
          title: { display: p.showX, text: 'Date', color: '#000', font: { size: 56 }, padding: { top: 0, bottom: 58 } }
        },
        y: {
          type: 'linear', min: p.yMin, max: p.yMax,
          afterBuildTicks: (s) => { s.ticks = p.yTicks.map((v) => ({ value: v })); },
          afterFit: (s) => { s.width = 322; },
          grid: { color: '#b0b0b0', lineWidth: 5.5, drawTicks: true, tickLength: 28, tickWidth: 6, tickColor: '#000' },
          border: { display: true, color: '#000', width: 6 },
          ticks: { padding: 34, color: '#000', font: { size: 56 }, callback: p.fmt },
          title: { display: true, text: 'Draft anomaly (m)', color: '#000', font: { size: 56 },
                   padding: { top: p.yTitlePad, bottom: 0 } }
        }
      },
      plugins: {
        legend: { display: false },
        tooltip: { enabled: false },
        panelTag: { text: p.tag },
        inAxesLegend: { show: p.legend }
      }
    },
    plugins: [panelTag, inAxesLegend]
  });
}

makePanel('panelA', {
  tag: '(a) Mooring A', legend: true, showX: false, xAxisHeight: 70,
  yMin: -1.448, yMax: 1.575, yTicks: yTicksAB, fmt: fmtAB, yTitlePad: 54,
  bgepStarts: bgepStarts.A, bgep: [bgepA], daily: dailyA, dailyDots: dailyDotsA,
  gpsit: gpsitA, gpsitDots: gpsitDotsA, gr4: gr4A, gr4Dots: gr4DotsA
});
makePanel('panelB', {
  tag: '(b) Mooring B', legend: false, showX: false, xAxisHeight: 70,
  yMin: -1.484, yMax: 1.904, yTicks: yTicksAB, fmt: fmtAB, yTitlePad: 54,
  bgepStarts: bgepStarts.B, bgep: [bgepB1, bgepB2], daily: dailyB, dailyDots: dailyDotsB,
  gpsit: gpsitB, gpsitDots: gpsitDotsB, gr4: gr4B, gr4Dots: gr4DotsB
});
makePanel('panelC', {
  tag: '(c) Mooring D', legend: false, showX: true, xAxisHeight: 261,
  yMin: -1.656, yMax: 3.746, yTicks: yTicksC, fmt: fmtC, yTitlePad: 102,
  bgepStarts: bgepStarts.C, bgep: [bgepC1, bgepC2], daily: dailyC, dailyDots: dailyDotsC,
  gpsit: gpsitC, gpsitDots: gpsitDotsC, gr4: gr4C, gr4Dots: gr4DotsC
});
</script>
</body>
</html>
